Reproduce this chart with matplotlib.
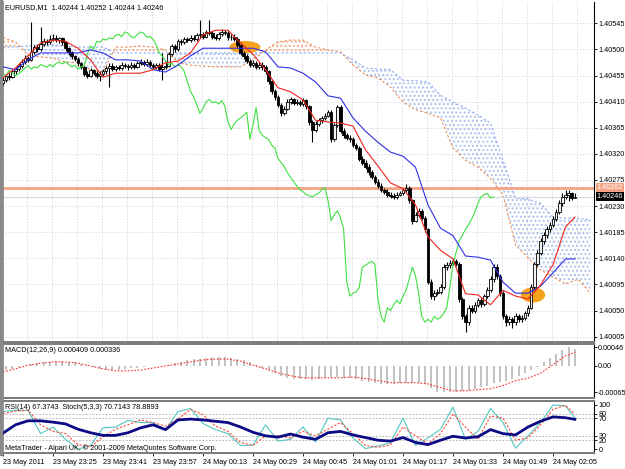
import numpy as np
import matplotlib.pyplot as plt
from matplotlib.patches import Ellipse, Rectangle
import matplotlib.transforms as mtransforms

# EURUSD M1 candles, prices in points (1e-5) above 1.40000
first_open_pts = 442
close_pts = [447, 455, 452, 462, 466, 472, 478, 485, 482, 496,
             504, 500, 510, 514, 512, 518, 520, 516, 519, 512,
             502, 495, 488, 484, 476, 470, 458, 455, 464, 460,
             455, 458, 462, 468, 472, 466, 470, 468, 474, 472,
             469, 474, 470, 476, 478, 475, 479, 474, 470, 473,
             466, 470, 472, 492, 506, 500, 514, 512, 518, 516,
             520, 518, 524, 526, 522, 530, 528, 522, 520, 526,
             530, 528, 521, 522, 518, 508, 494, 488, 480, 474,
             476, 470, 474, 470, 462, 445, 428, 418, 405, 390,
             398, 410, 414, 408, 410, 406, 412, 402, 375, 362,
             372, 378, 382, 386, 392, 345, 370, 400, 360, 352,
             348, 345, 335, 330, 312, 305, 298, 288, 280, 272,
             265, 258, 255, 250, 248, 246, 250, 252, 258, 262,
             240, 205, 215, 222, 210, 190, 100, 75, 80, 82,
             90, 125, 128, 132, 135, 130, 70, 40, 30, 55,
             50, 60, 68, 62, 75, 85, 105, 125, 110, 80,
             40, 30, 35, 30, 40, 35, 38, 45, 55, 90,
             130, 150, 170, 180, 190, 198, 208, 220, 235, 246,
             250, 252, 244, 246]
high_pts = [452, 458, 460, 466, 470, 476, 483, 490, 489, 547,
            508, 510, 538, 519, 518, 524, 526, 524, 522, 522,
            514, 505, 498, 491, 487, 479, 472, 462, 468, 467,
            463, 462, 466, 471, 476, 476, 474, 473, 478, 477,
            475, 478, 477, 480, 483, 481, 484, 482, 477, 477,
            476, 494, 478, 496, 510, 510, 518, 518, 522, 522,
            525, 524, 528, 551, 530, 534, 551, 532, 526, 530,
            536, 534, 532, 527, 526, 521, 511, 498, 492, 484,
            481, 480, 478, 478, 474, 465, 448, 432, 421, 408,
            402, 414, 418, 417, 414, 413, 416, 415, 405, 378,
            376, 382, 386, 390, 396, 395, 374, 404, 404, 364,
            356, 352, 349, 339, 333, 316, 309, 302, 292, 284,
            276, 269, 262, 259, 254, 252, 254, 256, 262, 268,
            265, 243, 219, 226, 225, 213, 192, 104, 85, 88,
            95, 130, 133, 137, 140, 139, 133, 73, 44, 60,
            59, 64, 72, 72, 79, 90, 110, 130, 130, 113,
            83, 44, 40, 39, 45, 44, 43, 50, 60, 95,
            134, 155, 175, 185, 195, 203, 213, 225, 240, 252,
            258, 258, 255, 252]
low_pts = [438, 444, 448, 450, 458, 463, 468, 475, 478, 480,
           492, 495, 498, 506, 508, 510, 514, 512, 511, 508,
           498, 490, 484, 480, 472, 466, 454, 450, 452, 456,
           450, 446, 454, 458, 436, 462, 463, 464, 465, 468,
           465, 466, 466, 468, 473, 471, 472, 470, 466, 467,
           462, 447, 466, 469, 488, 496, 497, 508, 509, 512,
           513, 514, 515, 520, 518, 519, 524, 518, 516, 517,
           523, 524, 517, 517, 514, 504, 490, 484, 476, 470,
           470, 466, 466, 465, 458, 440, 424, 413, 400, 385,
           387, 395, 406, 404, 404, 402, 403, 398, 370, 340,
           358, 368, 374, 378, 383, 340, 342, 366, 356, 348,
           344, 340, 331, 326, 308, 300, 294, 284, 276, 268,
           261, 254, 251, 246, 244, 242, 243, 247, 249, 255,
           236, 200, 202, 212, 206, 185, 95, 70, 68, 76,
           78, 87, 120, 124, 128, 126, 65, 35, 13, 26,
           45, 46, 56, 57, 58, 71, 82, 100, 105, 75,
           35, 24, 25, 20, 26, 30, 31, 34, 41, 52,
           86, 126, 146, 165, 175, 185, 194, 204, 216, 231,
           242, 238, 240, 244]

# Ichimoku lines read every 4 bars (points above 1.40000)
line_bars = list(range(0, 181, 4)) + [183]
tenkan_pts = [451, 468, 489, 511, 516, 514, 502, 482, 452, 459,
              459, 459, 465, 477, 480, 494, 525, 533, 533, 511,
              492, 465, 434, 427, 413, 378, 375, 373, 368, 327,
              299, 270, 260, 232, 177, 154, 139, 79, 77, 60,
              85, 75, 70, 94, 129, 194, 211]
kijun_pts = [470, 465, 482, 494, 494, 494, 494, 499, 494, 482,
             482, 480, 465, 461, 473, 489, 502, 502, 502, 502,
             502, 496, 470, 468, 459, 444, 420, 416, 382, 359,
             340, 323, 316, 297, 232, 192, 179, 144, 142, 137,
             99, 80, 80, 92, 115, 139, 139]
span_bars = list(range(0, 189, 4))
span_a_pts = [520, 513, 490, 487, 485, 478, 477, 465, 461, 504,
              504, 506, 504, 499, 477, 473, 471, 470, 470, 470,
              482, 499, 513, 516, 516, 504, 499, 496, 473, 456,
              451, 435, 409, 396, 390, 382, 330, 309, 297, 278,
              249, 163, 141, 120, 108, 96, 104, 80]
span_b_pts = [504, 504, 506, 508, 508, 506, 504, 504, 504, 494,
              494, 494, 494, 494, 494, 494, 494, 494, 494, 494,
              494, 494, 494, 494, 494, 494, 494, 494, 482, 468,
              466, 465, 447, 446, 444, 421, 409, 399, 387, 373,
              309, 244, 242, 235, 211, 209, 209, 206]

# MACD(12,26,9) in 1e-5: main every 2 bars, signal every 4 bars
macd_bars = list(range(1, 184, 2))
macd_main = [-10, -7, -3, 1, 5, 8, 10, 11, 12, 12,
             11, 9, 6, 3, -2, -7, -10, -10, -9, -7,
             -6, -4, -2, -1, 0, 0, 3, 8, 11, 14,
             17, 18, 20, 22, 22, 22, 20, 18, 15, 9,
             3, -4, -10, -17, -25, -29, -31, -31, -32, -34,
             -33, -30, -27, -27, -29, -30, -33, -36, -39, -42,
             -44, -45, -44, -42, -41, -41, -42, -45, -54, -63,
             -65, -65, -64, -62, -59, -56, -52, -48, -42, -40,
             -38, -31, -24, -18, -10, -3, 10, 20, 30, 40,
             46, 40.9]
macd_signal = [-15, -7, 2, 7, 10, 10, 7, 0, -7, -12,
               -12, -10, -5, 0, 5, 10, 15, 17, 17, 12,
               2, -7, -17, -24, -29, -29, -29, -29, -27, -31,
               -36, -41, -41, -41, -44, -53, -61, -61, -58, -56,
               -48, -36, -30, -18, 3, 25, 33.6]

# RSI(14) and Stoch(5,3,3), every 4 bars
rsi = [36, 55, 64, 64, 61, 57, 45, 37, 31, 31,
       37, 48, 55, 44, 66, 68, 66, 63, 60, 50,
       38, 30, 27, 34, 27, 22, 37, 40, 32, 26,
       20, 18, 26, 15, 10, 20, 29, 25, 28, 44,
       35, 32, 50, 63, 73, 71, 67.37]
stoch_main = [85, 88, 88, 35, 50, 22, 0, 8, 48, 50,
              65, 60, 60, 43, 85, 92, 58, 44, 35, 8,
              9, 55, 18, 22, 50, 16, 70, 66, 25, 1,
              7, 14, 70, 8, 25, 45, 95, 22, 40, 92,
              60, 2, 30, 60, 100, 98, 70.71]
stoch_signal = [80, 86, 88, 55, 40, 35, 10, 5, 28, 45,
                55, 66, 60, 52, 68, 90, 78, 52, 40, 15,
                8, 30, 30, 25, 40, 30, 45, 60, 35, 8,
                4, 9, 50, 30, 12, 35, 80, 50, 22, 75,
                70, 20, 25, 55, 90, 99, 78.89]

time_labels = ['23 May 2011', '23 May 23:25', '23 May 23:41', '23 May 23:57',
               '24 May 00:13', '24 May 00:29', '24 May 00:45', '24 May 01:01',
               '24 May 01:17', '24 May 01:33', '24 May 01:49', '24 May 02:05']
ask_price = 1.40262
bid_price = 1.40246

plt.rcParams['font.family'] = ['Liberation Sans', 'DejaVu Sans']
FS = 5.2
W, H = 625, 469
fig = plt.figure(figsize=(6.25, 4.69), dpi=100)
fig.patch.set_facecolor('white')


def px_axes(x0, y0, x1, y1):
    return fig.add_axes([x0 / W, 1 - y1 / H, (x1 - x0) / W, (y1 - y0) / H])


ax = px_axes(2, 2, 594, 342)
ax_macd = px_axes(2, 344, 594, 398)
ax_rsi = px_axes(2, 401, 594, 453)

pts = lambda v: 1.4 + np.asarray(v, dtype=float) / 1e5
close = pts(close_pts)
high = pts(high_pts)
low = pts(low_pts)
opn = np.r_[pts([first_open_pts]), close[:-1]]   # forex M1: open = previous close
bars = np.arange(len(close))

for a in (ax, ax_macd, ax_rsi):
    a.set_xlim(-0.32, 189.12)
    a.set_facecolor('white')
    a.yaxis.tick_right()
    a.tick_params(axis='y', direction='out', length=2, width=0.6, pad=1.2,
                  labelsize=FS, left=False, labelleft=False)
    a.tick_params(axis='x', bottom=False, labelbottom=False)
    a.spines['left'].set_color('#8a8a8a')
    a.spines['left'].set_linewidth(2)
    a.spines['right'].set_color('black')
    a.spines['right'].set_linewidth(0.8)
    for s in ('top', 'bottom'):
        a.spines[s].set_color('#7a7a7a')
        a.spines[s].set_linewidth(1.4)
ax.spines['top'].set_visible(False)

# ---- main price window ----
ax.set_ylim(1.3999587, 1.4058169)
yt = [1.40005 + 0.00045 * k for k in range(13)]
ax.set_yticks(yt)
ax.set_yticklabels(['%.5f' % v for v in yt])
grid_kw = dict(color='#cfd0e0', lw=0.6, ls=(0, (1.5, 2)), zorder=0.5)
for v in yt:
    ax.axhline(v, **grid_kw)
for k in range(1, 24):
    ax.axvline(8 * k - 0.32, **grid_kw)

sx = np.array(span_bars)
sa = pts(span_a_pts)
sb = pts(span_b_pts)
for mask, col in ((sa >= sb, '#f3a97e'), (sa < sb, '#a6bff0')):
    with plt.rc_context({'hatch.color': col, 'hatch.linewidth': 0.9}):
        ax.fill_between(sx, sa, sb, where=mask, interpolate=True,
                        facecolor='none', edgecolor=col, linewidth=0,
                        hatch='....', zorder=1)
ax.plot(sx, sa, color='#ee8a4e', lw=0.8, ls=(0, (2, 2)), zorder=1.5)
ax.plot(sx, sb, color='#8fa9ee', lw=0.8, ls=(0, (2, 2)), zorder=1.5)

ax.axhline(bid_price, color='#d6d6de', lw=0.8, zorder=1.6)
ax.axhline(ask_price, color='#f4a384', lw=2.0, zorder=1.7)

for (cx, cy, w, h) in ((77.4, 1.40504, 9.6, 0.00019), (169.6, 1.40077, 7.4, 0.00024)):
    ax.add_patch(Ellipse((cx, cy), w, h, facecolor='#f7a21b', edgecolor='#f7a21b',
                         lw=0.8, zorder=2.8))

ax.vlines(bars, low, high, color='black', lw=0.8, zorder=3)
up = close >= opn
body = np.maximum(np.abs(close - opn), 0.000012)
ax.bar(bars[up], body[up], bottom=opn[up], width=0.82, color='#f4f4f4',
       edgecolor='black', lw=0.6, zorder=3.2)
ax.bar(bars[~up], body[~up], bottom=close[~up], width=0.82, color='black',
       edgecolor='black', lw=0.6, zorder=3.2)

ax.plot(bars[26:] - 26, close[26:], color='#3fe03f', lw=0.8, zorder=3.5)
ax.plot(line_bars, pts(kijun_pts), color='#2f2fe6', lw=0.8, zorder=3.6)
ax.plot(line_bars, pts(tenkan_pts), color='#f0241c', lw=0.8, zorder=3.7)

blend = mtransforms.blended_transform_factory(ax.transAxes, ax.transData)
ax.text(1.004, ask_price, '%.5f' % ask_price, transform=blend, fontsize=FS,
        color='white', va='center', ha='left', zorder=5,
        bbox=dict(boxstyle='square,pad=0.12', fc='#f4a384', ec='none'))
ax.text(1.004, bid_price, '%.5f' % bid_price, transform=blend, fontsize=FS,
        color='white', va='center', ha='left', zorder=5,
        bbox=dict(boxstyle='square,pad=0.12', fc='black', ec='none'))

# ---- MACD window ----
ax_macd.set_ylim(-0.000787, 0.000541)
ax_macd.vlines(macd_bars, 0, np.array(macd_main) * 1e-5, color='#b8b8b8', lw=1.2)
ax_macd.plot(line_bars, np.array(macd_signal) * 1e-5, color='#ff3030', lw=0.8,
             ls=(0, (1.5, 1.5)))
ax_macd.set_yticks([0.00046, 0.0, -0.00065])
ax_macd.set_yticklabels(['0.00046', '0.00', '-0.00065'])
ax_macd.tick_params(axis='y', pad=0.6)

# ---- RSI / Stochastic window ----
ax_rsi.set_ylim(-9, 109)
for lv in (80, 70, 30, 20):
    ax_rsi.axhline(lv, color='#a8a8a8', lw=0.6, ls=(0, (2, 2)), zorder=0.5)
ax_rsi.plot(line_bars, stoch_main, color='#52c6c0', lw=0.8, zorder=2)
ax_rsi.plot(line_bars, stoch_signal, color='#ff4a3a', lw=0.8, ls=(0, (2, 1.5)), zorder=2.1)
ax_rsi.plot(line_bars, rsi, color='#0b0b86', lw=2.0, zorder=3)
ax_rsi.set_yticks([100, 80, 70, 30, 20, 0])
ax_rsi.set_yticklabels(['100', '80', '70', '30', '20', '0'])
ax_rsi.set_xticks([16 * k for k in range(len(time_labels))])
ax_rsi.set_xticklabels(time_labels)
ax_rsi.tick_params(axis='x', bottom=True, labelbottom=True, direction='out',
                   length=2.5, width=0.6, pad=2, labelsize=FS)
for lab in ax_rsi.get_xticklabels():
    lab.set_ha('left')

# ---- texts ----
def ftext(x, y, s):
    fig.text(x / W, 1 - y / H, s, fontsize=FS, va='center', ha='left', color='black')

ftext(5, 8, 'EURUSD,M1  1.40244 1.40252 1.40244 1.40246')
ftext(5, 350, 'MACD(12,26,9) 0.000409 0.000336')
ftext(5, 407, 'RSI(14) 67.3743  Stoch(5,3,3) 70.7143 78.8893')
ftext(5, 448, 'MetaTrader - Alpari UK, \u00a9 2001-2009 MetaQuotes Software Corp.')

fig.add_artist(Rectangle((0, 1 - 455 / H), 2 / W, 455 / H, transform=fig.transFigure,
                         color='#8a8a8a', zorder=10))

fig.savefig('out.png', dpi=100, facecolor='white')
